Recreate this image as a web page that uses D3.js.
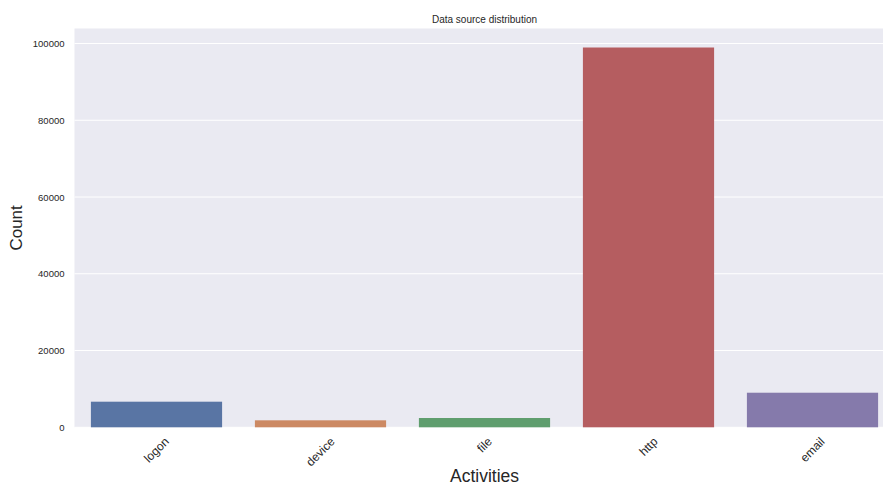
<!DOCTYPE html>
<html>
<head>
<meta charset="utf-8">
<script src="https://cdn.jsdelivr.net/npm/d3@7"></script>
<style>
  html, body { margin: 0; padding: 0; background: #ffffff; }
  svg { display: block; font-family: "Liberation Sans", Arial, sans-serif; }
</style>
</head>
<body>
<svg id="chart" width="883" height="486"></svg>
<script>
const categories = ["logon", "device", "file", "http", "email"];
const counts = [6670, 1820, 2420, 98950, 9010];
const barColors = ["#5975a4", "#cc8963", "#5f9e6e", "#b55d60", "#857aab"];
const yTicks = [0, 20000, 40000, 60000, 80000, 100000];
const titleText = "Data source distribution";
const xLabel = "Activities";
const yLabel = "Count";

(function () {
const svg = d3.select("#chart");
const pL = 74.5, pR = 894.5, pT = 28.5, pB = 427.3;

const x = d3.scaleBand().domain(categories).range([pL, pR]).paddingInner(0.2).paddingOuter(0.1);
const y = d3.scaleLinear().domain([0, 103900]).range([pB, pT]);

svg.append("rect").attr("x", pL).attr("y", pT)
  .attr("width", pR - pL).attr("height", pB - pT).attr("fill", "#eaeaf2");

svg.append("g").selectAll("line").data(yTicks).join("line")
  .attr("x1", pL).attr("x2", pR)
  .attr("y1", d => y(d)).attr("y2", d => y(d))
  .attr("stroke", "#ffffff").attr("stroke-width", 1);

svg.append("g").selectAll("rect").data(categories).join("rect")
  .attr("x", d => x(d)).attr("width", x.bandwidth())
  .attr("y", (d, i) => y(counts[i]))
  .attr("height", (d, i) => y(0) - y(counts[i]))
  .attr("fill", (d, i) => barColors[i]);

const yAxis = svg.append("g").attr("transform", `translate(${pL},0)`)
  .call(d3.axisLeft(y).tickValues(yTicks).tickFormat(d3.format("d")).tickSize(0).tickPadding(10));
yAxis.select(".domain").remove();
yAxis.selectAll("text").attr("font-size", "9.5px").attr("fill", "#262626")
  .attr("font-family", "Liberation Sans, Arial, sans-serif");

const xAxis = svg.append("g").attr("transform", `translate(0,${pB})`)
  .call(d3.axisBottom(x).tickSize(0).tickPadding(0));
xAxis.select(".domain").remove();
xAxis.selectAll("text")
  .attr("font-size", "12px").attr("fill", "#262626")
  .attr("font-family", "Liberation Sans, Arial, sans-serif")
  .attr("dy", null).attr("y", 0)
  .attr("text-anchor", "middle")
  .attr("dominant-baseline", "central")
  .each(function () {
    const w = this.getComputedTextLength();
    const h = 12;
    const half = (w + h) * Math.SQRT1_2 / 2;
    d3.select(this).attr("transform", `translate(0,${8 + half}) rotate(-45)`);
  });

svg.append("text").attr("x", (pL + pR) / 2).attr("y", 22.5)
  .attr("text-anchor", "middle").attr("font-size", "10px").attr("fill", "#262626")
  .text(titleText);

svg.append("text").attr("x", (pL + pR) / 2).attr("y", 481.5)
  .attr("text-anchor", "middle").attr("font-size", "17.5px").attr("fill", "#262626")
  .text(xLabel);

svg.append("text").attr("transform", `translate(22,${(pT + pB) / 2}) rotate(-90)`)
  .attr("text-anchor", "middle").attr("font-size", "17px").attr("fill", "#262626")
  .text(yLabel);
})();
</script>
</body>
</html>
